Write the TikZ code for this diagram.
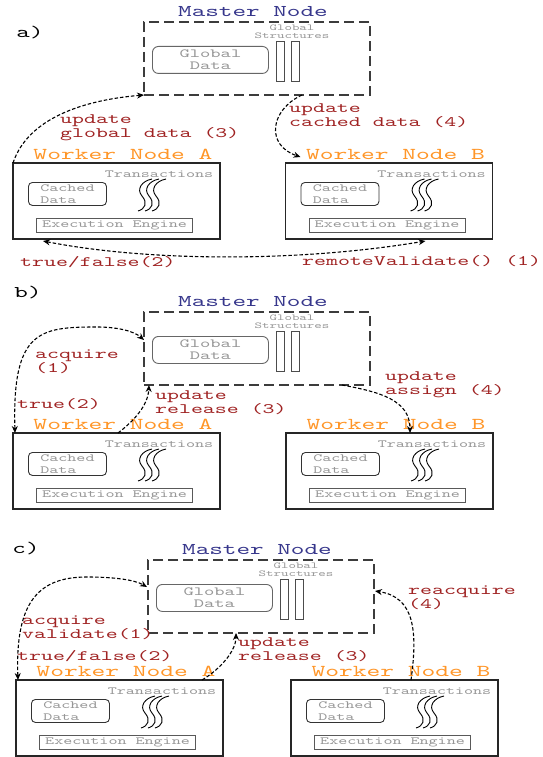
\documentclass[tikz,border=0pt]{standalone}
\usepackage{fontspec}
\usetikzlibrary{arrows.meta,calc}
\newfontfamily\cour[FakeStretch=1.58]{lmmono10-regular.otf}
\definecolor{navy}{RGB}{55,55,140}
\definecolor{worange}{RGB}{255,150,40}
\definecolor{lblred}{RGB}{160,35,35}
\definecolor{txtgray}{RGB}{150,150,150}
\definecolor{boxgray}{RGB}{60,60,60}

\tikzset{
  master/.style={draw=boxgray, line width=1.5pt, dash pattern=on 10pt off 5pt,
    minimum width=226pt, minimum height=73pt, inner sep=0pt, outer sep=0pt, anchor=north west},
  worker/.style={draw=black!85, line width=1.4pt, minimum width=207pt, minimum height=76pt,
    inner sep=0pt, outer sep=0pt, anchor=north west},
  mtitle/.style={text=navy, inner sep=0pt, font={\cour\fontsize{16.4}{17}\selectfont}},
  wtitle/.style={text=worange, inner sep=0pt, font={\cour\fontsize{16.6}{17}\selectfont}},
  panel/.style={text=black, inner sep=0pt, font={\cour\fontsize{16.3}{17}\selectfont}},
  gdata/.style={draw=black!60, line width=0.9pt, rounded corners=6pt, minimum width=116pt,
    minimum height=27pt, inner sep=0pt, anchor=north west, text=txtgray, align=center,
    font={\cour\fontsize{12.4}{12}\selectfont}},
  gstruct/.style={text=txtgray, align=center, inner sep=0pt, font={\cour\fontsize{9}{8}\selectfont}},
  gbar/.style={draw=black!70, line width=0.9pt, minimum width=8pt, minimum height=40pt,
    inner sep=0pt, anchor=north west},
  cache/.style={draw=black!80, line width=0.9pt, rounded corners=4pt, minimum width=78pt,
    minimum height=23pt, inner sep=0pt, anchor=north west, text=txtgray, align=left,
    font={\cour\fontsize{10.9}{12}\selectfont}},
  engine/.style={draw=black!65, line width=1.1pt, minimum width=156pt, minimum height=14pt,
    inner sep=0pt, anchor=north west, text=txtgray, font={\cour\fontsize{10.9}{12}\selectfont}},
  trans/.style={text=txtgray, inner sep=0pt, font={\cour\fontsize{10.9}{12}\selectfont}},
  msg/.style={text=lblred, align=left, inner sep=0pt, anchor=north west,
    font={\cour\fontsize{14.4}{14}\selectfont}},
  flow/.style={draw=black, line width=1.1pt, dash pattern=on 3.5pt off 2pt,
    -{Stealth[length=7pt,width=6pt]}},
  flowboth/.style={flow, {Stealth[length=7pt,width=6pt]}-{Stealth[length=7pt,width=6pt]}},
  threads/.pic={
    \foreach \i in {0,7,14}{
      \draw[line width=0.9pt] (\i+14,0) .. controls (\i+4,-2) and (\i-2,-10) .. (\i+4,-17)
        .. controls (\i+10,-24) and (\i+7,-30) .. (\i,-32);
    }
  }
}

% worker node: name, x, y of top-left corner, title
\newcommand{\workerbox}[4]{%
  \node[worker] (#1) at (#2,#3) {};
  \node[wtitle] (#1-t) at ([shift={(6.5,9)}]#1.north) {#4};
  \node[trans] (#1-tr) at ([shift={(146,-11)}]#1.north west) {Transactions};
  \node[cache] (#1-c) at ([shift={(15,-19)}]#1.north west) {Cached\\Data};
  \node[engine] (#1-e) at ([shift={(23,-55)}]#1.north west) {Execution Engine};
  \pic at ([shift={(125,-16)}]#1.north west) {threads};
}
% master node: name, x, y of top-left corner
\newcommand{\masterbox}[3]{%
  \node[master] (#1) at (#2,#3) {};
  \node[mtitle] (#1-t) at ([shift={(-4,10)}]#1.north) {Master Node};
  \node[gdata] (#1-g) at ([shift={(8,-24)}]#1.north west) {Global\\Data};
  \node[gbar] (#1-b1) at ([shift={(132,-19)}]#1.north west) {};
  \node[gbar] (#1-b2) at ([shift={(147,-19)}]#1.north west) {};
  \node[gstruct] (#1-s) at ([shift={(148,-10)}]#1.north west) {Global\\Structures};
}

\begin{document}
\begin{tikzpicture}[x=1pt,y=1pt]
\fill[white] (0,0) rectangle (542,-757);
\useasboundingbox (0,0) rectangle (542,-757);

% ---------- a) ----------
\node[panel] (la) at (30,-33) {a)};
\masterbox{ma}{144}{-22}
\workerbox{wa1}{13}{-163}{Worker Node A}
\workerbox{wb1}{285.5}{-163}{Worker Node B}
\node[msg] (ma1) at (60,-115) {update\\global data (3)};
\node[msg] (ma2) at (289,-104) {update\\cached data (4)};
\node[msg] (ma3) at (20,-256) {true/false(2)};
\node[msg] (ma4) at (302,-255) {remoteValidate() (1)};
\draw[flow] (wa1.north west) .. controls +(15,45) and +(-60,-5) .. (ma.south west);
\draw[flow] ([xshift=45]ma.south) .. controls +(-32,-15) and +(-35,12) .. ([shift={(15,6)}]wb1.north west);
\draw[flowboth] ([shift={(30,-2)}]wa1.south west) .. controls +(107,-21) and +(-125,-21) .. ([shift={(140,-2)}]wb1.south west);

% ---------- b) ----------
\node[panel] (lb) at (28,-293) {b)};
\masterbox{mb}{144}{-312}
\workerbox{wa2}{13}{-433}{Worker Node A}
\workerbox{wb2}{286}{-433}{Worker Node B}
\node[msg] (mb1) at (35,-350) {acquire\\(1)};
\node[msg] (mb2) at (17,-398) {true(2)};
\node[msg] (mb3) at (155,-390) {update\\release (3)};
\node[msg] (mb4) at (385,-371) {update\\assign (4)};
\draw[flowboth] ([xshift=2]wa2.north west) .. controls (12,-330) and (40,-327) .. (97,-327)
  .. controls (120,-327) and (135,-332) .. ([shift={(0,8.5)}]mb.west);
\draw[flow] ([xshift=105]wa2.north west) .. controls +(17,13) and +(-1,-20) .. ([xshift=5]mb.south west);
\draw[flow] ([xshift=-28]mb.south east) .. controls +(38,-7) and +(0,33) .. ([xshift=124]wb2.north west);

% ---------- c) ----------
\node[panel] (lc) at (26,-549) {c)};
\masterbox{mc}{148}{-560}
\workerbox{wa3}{16}{-680}{Worker Node A}
\workerbox{wb3}{291}{-680}{Worker Node B}
\node[msg] (mc1) at (22,-616) {acquire\\validate(1)};
\node[msg] (mc2) at (17,-650) {true/false(2)};
\node[msg] (mc3) at (238,-637) {update\\release (3)};
\node[msg] (mc4) at (408,-586) {reacquire\\(4)};
\draw[flowboth] ([xshift=2]wa3.north west) .. controls (15,-600) and (40,-577) .. (87,-577)
  .. controls (115,-577) and (135,-580) .. ([shift={(-1,9.5)}]mc.west);
\draw[flow] ([xshift=186]wa3.north west) .. controls +(20,12) and +(0,-17) .. ([xshift=88]mc.south west);
\draw[flow] ([xshift=120]wb3.north west) .. controls +(7,50) and +(39,-6) .. ([shift={(1,5.5)}]mc.east);
\end{tikzpicture}
\end{document}
